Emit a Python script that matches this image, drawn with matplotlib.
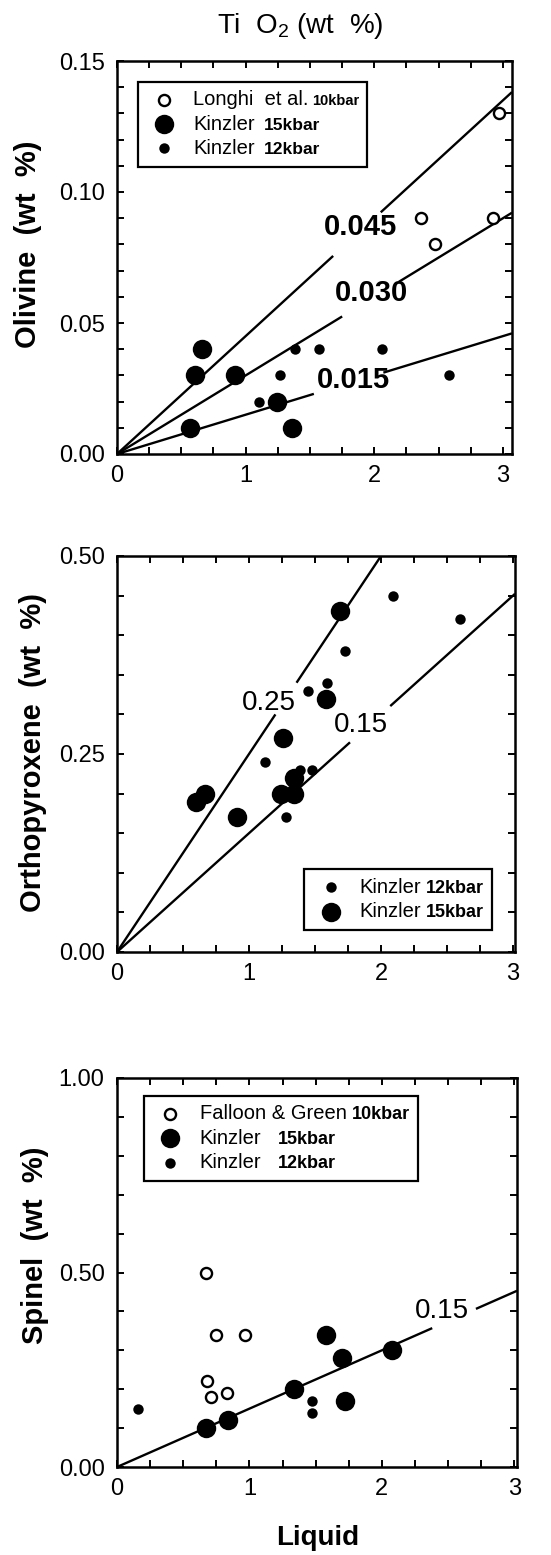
import matplotlib
matplotlib.use('Agg')
import matplotlib.pyplot as plt
import numpy as np
from matplotlib.lines import Line2D
from matplotlib.offsetbox import AnchoredOffsetbox, DrawingArea, HPacker, TextArea, VPacker
from matplotlib.ticker import FormatStrFormatter, MultipleLocator

plt.rcParams['font.family'] = ['Liberation Sans', 'DejaVu Sans']

# olivine panel
oli_longhi_x = [2.36, 2.47, 2.92, 2.97]
oli_longhi_y = [0.090, 0.080, 0.090, 0.130]
oli_k15_x = [0.66, 0.61, 0.92, 0.57, 1.24, 1.36]
oli_k15_y = [0.040, 0.030, 0.030, 0.010, 0.020, 0.010]
oli_k12_x = [1.38, 1.57, 2.06, 1.27, 1.10, 2.58]
oli_k12_y = [0.040, 0.040, 0.040, 0.030, 0.020, 0.030]
oli_slopes = [0.045, 0.030, 0.015]

# orthopyroxene panel
opx_k12_x = [2.09, 2.60, 1.73, 1.59, 1.45, 1.12, 1.39, 1.48, 1.28, 1.36]
opx_k12_y = [0.45, 0.42, 0.38, 0.34, 0.33, 0.24, 0.23, 0.23, 0.17, 0.22]
opx_k15_x = [1.69, 1.58, 1.26, 0.67, 0.60, 0.91, 1.24, 1.34, 1.34]
opx_k15_y = [0.43, 0.32, 0.27, 0.20, 0.19, 0.17, 0.20, 0.20, 0.22]
opx_slopes = [0.25, 0.15]

# spinel panel
spl_fg_x = [0.67, 0.75, 0.97, 0.68, 0.71, 0.83]
spl_fg_y = [0.50, 0.34, 0.34, 0.22, 0.18, 0.19]
spl_k15_x = [0.67, 0.84, 1.34, 1.58, 1.70, 1.72, 2.08]
spl_k15_y = [0.10, 0.12, 0.20, 0.34, 0.28, 0.17, 0.30]
spl_k12_x = [0.16, 1.47, 1.47]
spl_k12_y = [0.15, 0.17, 0.14]
spl_slopes = [0.15]

OPEN = dict(marker='o', ms=8, mfc='white', mec='black', mew=1.7)
BIG = dict(marker='o', ms=14, mfc='black', mec='black', mew=0)
SMALL = dict(marker='o', ms=7.5, mfc='black', mec='black', mew=0)

W, H = 551, 1555


def add_axes(left, top, right, bottom):
    ax = fig.add_axes([left / W, 1 - bottom / H, (right - left) / W, (bottom - top) / H])
    for s in ax.spines.values():
        s.set_linewidth(1.8)
    ax.tick_params(which='both', direction='in', top=True, right=True,
                   length=5, width=1.4, labelsize=17)
    ax.tick_params(axis='y', pad=9)
    ax.tick_params(axis='x', pad=8)
    return ax


def slope_line(ax, slope, xmax, gap):
    for seg in [(0, gap[0]), (gap[1], xmax)]:
        xs = np.array(seg)
        ax.plot(xs, slope * xs, color='black', lw=1.7, solid_capstyle='butt')


def key(ax, rows, loc, anchor):
    lines = []
    for style, name, tag, sep, tag_size in rows:
        da = DrawingArea(26, 14, 0, 0)
        da.add_artist(Line2D([13], [7], ls='', **style))
        words = HPacker(children=[TextArea(name, textprops=dict(fontsize=14.5)),
                                  TextArea(tag, textprops=dict(fontsize=tag_size, fontweight='bold'))],
                        align='baseline', pad=0, sep=sep)
        lines.append(HPacker(children=[da, words], align='center', pad=0, sep=8))
    box = AnchoredOffsetbox(loc=loc, child=VPacker(children=lines, align='left', pad=0, sep=3.5),
                            pad=0.6, borderpad=0, frameon=True,
                            bbox_to_anchor=anchor, bbox_transform=ax.transAxes)
    box.patch.set_linewidth(1.6)
    box.patch.set_edgecolor('black')
    ax.add_artist(box)


fig = plt.figure(figsize=(W / 100, H / 100), dpi=100)

# ---- olivine ----
ax1 = add_axes(117, 61, 512, 454)
ax1.set_xlim(0, 3.07)
ax1.set_ylim(0, 0.15)
ax1.set_xticks([0, 1, 2, 3])
ax1.set_yticks([0, 0.05, 0.10, 0.15])
ax1.xaxis.set_minor_locator(MultipleLocator(0.25))
ax1.yaxis.set_minor_locator(MultipleLocator(0.01))
ax1.yaxis.set_major_formatter(FormatStrFormatter('%.2f'))
oli_gaps = [(1.68, 2.05), (1.75, 2.19), (1.53, 2.07)]
oli_lab_pos = [(1.89, 0.0868), (1.98, 0.0613), (1.84, 0.0282)]
for sl, gp, (lx, ly) in zip(oli_slopes, oli_gaps, oli_lab_pos):
    slope_line(ax1, sl, 3.07, gp)
    ax1.text(lx, ly, f'{sl:.3f}', fontsize=21, fontweight='bold', ha='center', va='center')
ax1.plot(oli_longhi_x, oli_longhi_y, ls='', **OPEN)
ax1.plot(oli_k15_x, oli_k15_y, ls='', **BIG)
ax1.plot(oli_k12_x, oli_k12_y, ls='', **SMALL)
ax1.set_ylabel('Olivine  (wt  %)', fontsize=21, fontweight='bold')
ax1.yaxis.set_label_coords(-0.19, 0.534)
key(ax1, [(OPEN, 'Longhi  et al.', '10kbar', 2, 10.5),
          (BIG, 'Kinzler', '15kbar', 6, 12.5),
          (SMALL, 'Kinzler', '12kbar', 6, 12.5)], 'upper left', (0.053, 0.947))

# ---- orthopyroxene ----
ax2 = add_axes(117, 556, 515, 952)
ax2.set_xlim(0, 3.015)
ax2.set_ylim(0, 0.5)
ax2.set_xticks([0, 1, 2, 3])
ax2.set_yticks([0, 0.25, 0.5])
ax2.xaxis.set_minor_locator(MultipleLocator(0.25))
ax2.yaxis.set_minor_locator(MultipleLocator(0.05))
ax2.yaxis.set_major_formatter(FormatStrFormatter('%.2f'))
opx_gaps = [(1.20, 1.36), (1.765, 2.07)]
opx_lab_pos = [(1.15, 0.314), (1.85, 0.286)]
for sl, gp, (lx, ly) in zip(opx_slopes, opx_gaps, opx_lab_pos):
    slope_line(ax2, sl, 3.015, gp)
    ax2.text(lx, ly, f'{sl:.2f}', fontsize=20, ha='center', va='center')
ax2.plot(opx_k12_x, opx_k12_y, ls='', **SMALL)
ax2.plot(opx_k15_x, opx_k15_y, ls='', **BIG)
ax2.set_ylabel('Orthopyroxene  (wt  %)', fontsize=21, fontweight='bold')
ax2.yaxis.set_label_coords(-0.175, 0.503)
key(ax2, [(SMALL, 'Kinzler', '12kbar', 3, 13),
          (BIG, 'Kinzler', '15kbar', 3, 13)], 'lower right', (0.942, 0.056))

# ---- spinel ----
ax3 = add_axes(117, 1078, 517, 1467)
ax3.set_xlim(0, 3.02)
ax3.set_ylim(0, 1.0)
ax3.set_xticks([0, 1, 2, 3])
ax3.set_yticks([0, 0.5, 1.0])
ax3.xaxis.set_minor_locator(MultipleLocator(0.25))
ax3.yaxis.set_minor_locator(MultipleLocator(0.1))
ax3.yaxis.set_major_formatter(FormatStrFormatter('%.2f'))
slope_line(ax3, spl_slopes[0], 3.02, (2.38, 2.71))
ax3.text(2.45, 0.40, f'{spl_slopes[0]:.2f}', fontsize=20, ha='center', va='center')
ax3.plot(spl_fg_x, spl_fg_y, ls='', **OPEN)
ax3.plot(spl_k15_x, spl_k15_y, ls='', **BIG)
ax3.plot(spl_k12_x, spl_k12_y, ls='', **SMALL)
ax3.set_ylabel('Spinel  (wt  %)', fontsize=21, fontweight='bold')
ax3.yaxis.set_label_coords(-0.17, 0.571)
key(ax3, [(OPEN, 'Falloon & Green', '10kbar', 4, 13),
          (BIG, 'Kinzler', '15kbar', 12, 13),
          (SMALL, 'Kinzler', '12kbar', 12, 13)], 'upper left', (0.0675, 0.954))

fig.text(300 / W, 1 - 33 / H, r'Ti  O$_\mathregular{2}$ (wt  %)', fontsize=20,
         ha='center', va='baseline')
fig.text(318 / W, 1 - 1545 / H, 'Liquid', fontsize=20, fontweight='bold',
         ha='center', va='baseline')

fig.savefig('out.png', dpi=100)
